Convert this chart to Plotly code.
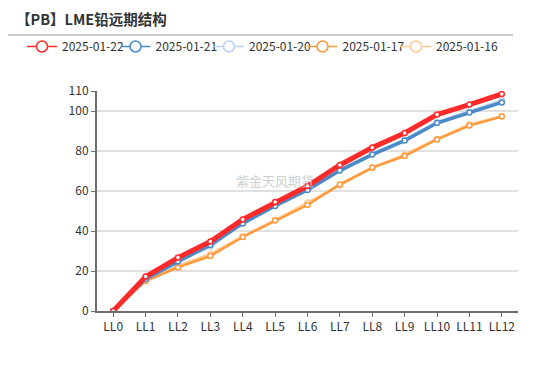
import plotly.graph_objects as go

categories = ["LL0", "LL1", "LL2", "LL3", "LL4", "LL5", "LL6", "LL7", "LL8", "LL9", "LL10", "LL11", "LL12"]
s_0122 = [0, 17.2, 26.7, 34.7, 45.8, 54.5, 62.5, 73.0, 81.7, 89.0, 98.2, 103.2, 108.5]
s_0121 = [0, 16.0, 24.7, 33.0, 43.8, 52.5, 60.5, 70.2, 78.2, 85.2, 94.0, 99.2, 104.3]
s_0120 = [0, 16.3, 25.5, 32.2, 44.2, 53.2, 61.5, 70.8, 78.6, 85.6, 94.4, 99.8, 105.2]
s_0117 = [0, 15.0, 21.8, 27.5, 37.0, 45.2, 53.0, 63.3, 71.7, 77.5, 85.8, 92.7, 97.2]
s_0116 = [0, 15.5, 22.5, 28.5, 37.3, 45.5, 54.2, 62.8, 71.5, 78.2, 86.0, 93.3, 97.4]

names = ["2025-01-22", "2025-01-21", "2025-01-20", "2025-01-17", "2025-01-16"]
series = [s_0122, s_0121, s_0120, s_0117, s_0116]
colors = ["#ff2b2b", "#4a8ac8", "#bcd0ee", "#ff9a3c", "#ffca96"]
widths = [5, 3.5, 3, 2.5, 2.5]

PW, PH = 421, 220  # plot area size in px
LEG_STEP = 93.5    # legend entry spacing in px

fig = go.Figure()
# data traces, drawn in reverse so red is on top
for i in reversed(range(len(series))):
    fig.add_trace(go.Scatter(
        x=categories, y=series[i], name=names[i], mode="lines+markers",
        line=dict(color=colors[i], width=widths[i]),
        marker=dict(symbol="circle", size=5, color="white", line=dict(color=colors[i], width=1.5)),
        showlegend=False,
    ))

leg_common = dict(orientation="h", xref="paper", y=(311 - 32) / PH, yref="paper",
                  yanchor="top", xanchor="left",
                  font=dict(size=12, color="#333"), itemwidth=30, tracegroupgap=0,
                  bgcolor="rgba(0,0,0,0)", itemclick=False, itemdoubleclick=False)
legends = {}
# legend entries with thin lines, one legend box per entry for exact spacing
for i in range(len(series)):
    key = "legend" if i == 0 else f"legend{i + 1}"
    fig.add_trace(go.Scatter(
        x=[None], y=[None], name=names[i], mode="lines+markers",
        line=dict(color=colors[i], width=1.5),
        marker=dict(symbol="circle", size=11, color="white", line=dict(color=colors[i], width=1.5)),
        showlegend=True, legend=key,
    ))
    legends[key] = dict(x=(-75 + i * LEG_STEP) / PW, **leg_common)

fig.update_layout(
    width=542, height=358,
    margin=dict(l=89, r=32, t=83, b=55, autoexpand=False),
    paper_bgcolor="white", plot_bgcolor="white",
    font=dict(family="Noto Sans CJK SC, Noto Sans, sans-serif", color="#333", size=12),
    showlegend=True,
    xaxis=dict(
        type="category", range=[-0.5, 12.5], showgrid=False,
        showline=True, linecolor="#6e6e6e", linewidth=2,
        ticks="outside", ticklen=4, tickcolor="#6e6e6e", tickwidth=1,
        tickfont=dict(size=12, color="#333"), fixedrange=True,
    ),
    yaxis=dict(
        range=[0, 110], tickvals=[0, 20, 40, 60, 80, 100, 110],
        showgrid=True, gridcolor="#e0e0e0", gridwidth=1.5,
        showline=True, linecolor="#6e6e6e", linewidth=2,
        ticks="outside", ticklen=4, tickcolor="#6e6e6e",
        tickfont=dict(size=12, color="#333"), zeroline=False,
    ),
    shapes=[dict(type="line", xref="paper", yref="paper", x0=-89 / PW, x1=(513 - 97) / PW,
                 y0=(311 - 35) / PH, y1=(311 - 35) / PH, line=dict(color="#cccccc", width=2))],
    annotations=[
        dict(text="<b>【PB】LME铅远期结构</b>", xref="paper", yref="paper",
             x=-83 / PW, y=(311 - 18) / PH, xanchor="left", yanchor="middle", showarrow=False,
             font=dict(size=14.5, color="#333", family="Noto Sans CJK SC")),
        dict(text="紫金天风期货", xref="paper", yref="paper",
             x=(275 - 97) / PW, y=(311 - 180) / PH, xanchor="center", yanchor="middle", showarrow=False,
             font=dict(size=13, color="#cfcfcf", family="Noto Sans CJK SC")),
    ],
)
fig.update_layout(**legends)
fig.write_html("out.html")
